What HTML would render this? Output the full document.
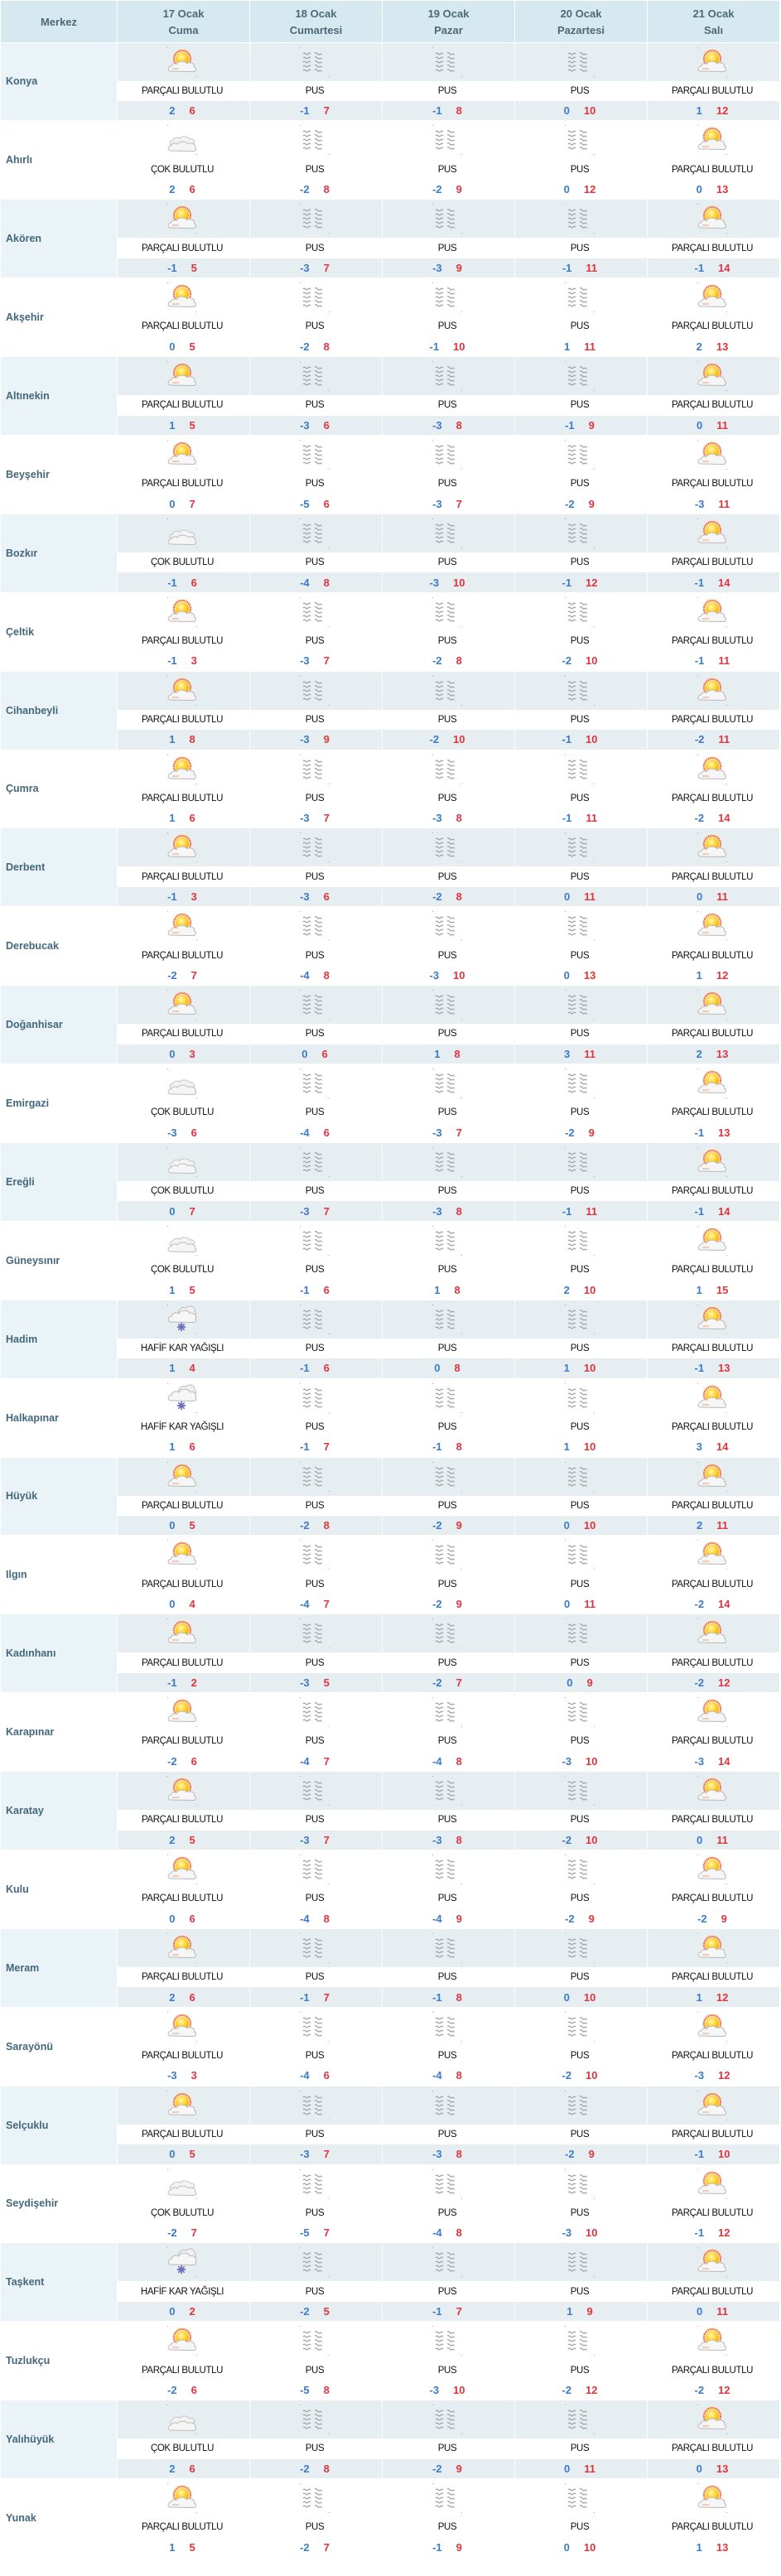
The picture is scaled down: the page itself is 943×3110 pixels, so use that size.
<!DOCTYPE html>
<html><head><meta charset="utf-8"><style>
*{margin:0;padding:0;box-sizing:border-box}
html,body{width:943px;height:3110px;background:#fff;overflow:hidden}
body{font-family:"Liberation Sans",sans-serif}
.g{display:grid;grid-template-columns:140px repeat(5,159px);grid-template-rows:49.5px repeat(32,46px 22.5px 23.4px);gap:1px;padding:1px;width:941px}
.g>div{display:flex;align-items:center;justify-content:center;overflow:hidden}
.h{background:#d6e9f0;color:#4e6878;font-weight:bold;font-size:13px;line-height:20px;text-align:center;padding-top:2px}
.n,.N{grid-row:span 3;justify-content:flex-start!important;padding-left:6px;font-weight:bold;font-size:12.5px;color:#44687b}
.N{background:#eaf3f7}
.I,.T{background:#e6eef2}
.i,.I,.d,.t,.T{padding-right:3px}
.d{font-size:11.5px;letter-spacing:-0.4px;color:#111;white-space:nowrap}
.t,.T{font-weight:bold;font-size:13px}
.t b,.T b{color:#3a7bcc;margin-right:17px}
.t i,.T i{color:#e2343f;font-style:normal}
.g svg{width:36px;height:36px;display:block}
</style></head><body>
<svg width="0" height="0" style="position:absolute">
<defs>
<radialGradient id="sg" cx="0.42" cy="0.35" r="0.7"><stop offset="0" stop-color="#fff8b0"/><stop offset="0.5" stop-color="#ffd436"/><stop offset="1" stop-color="#f5a400"/></radialGradient>
<symbol id="a" viewBox="0 0 36 36">
<rect width="1" height="1" fill="#aaa"/><rect x="35" y="35" width="1" height="1" fill="#aaa"/>
<circle cx="18" cy="14" r="12" fill="#ffe2a8" opacity=".55"/>
<circle cx="18" cy="14" r="10" fill="none" stroke="#f0482c" stroke-width="2" stroke-dasharray="1.3 1"/>
<circle cx="18" cy="14" r="8" fill="url(#sg)"/>
<path d="M4,29 C0,29 0,23 4.5,23 C5,20 9,19 11,20.5 C13,16.5 21,16 23.5,19.5 C28,17.5 34,20 32.5,24 C35.5,25 35,29.5 31,29.5 Z" fill="#f6f6f6" stroke="#b9b9b9" stroke-width="1"/>
<path d="M6,26 L14,26" stroke="#e9a070" stroke-width="1"/>
</symbol>
<symbol id="c" viewBox="0 0 36 36">
<rect width="1" height="1" fill="#aaa"/><rect x="35" y="35" width="1" height="1" fill="#aaa"/>
<path d="M6,24 C2,24 2,19 6,19 C7,15 13,14 15,16.5 C17,13 25,13 27,17 C31,16 34,19 32,22 Z" fill="#f3f3f3" stroke="#c4c4c4" stroke-width="1"/>
<path d="M4,31 C0,31 0,25 4.5,25 C5.5,22 10,21 12,23 C14,19.5 22,19 24.5,22.5 C29,21 35,23 33.5,27 C36,28 35,31.5 31,31.5 Z" fill="#f5f5f5" stroke="#bdbdbd" stroke-width="1"/>
</symbol>
<symbol id="h" viewBox="0 0 36 36">
<rect width="1" height="1" fill="#aaa"/><rect x="35" y="35" width="1" height="1" fill="#aaa"/>
<path d="M14,12 C12,6 18,2 23,4 C26,0 34,2 33,8 C36,10 34,14 31,14 Z" fill="#f0f0f0" stroke="#bdbdbd" stroke-width="1"/>
<path d="M4,21 C0,21 0,14 5,14.5 C5.5,10 11,8.5 14,11 C16,6 25,6 27,10.5 C32,9.5 36,13 34,17 C36,19 34,21.5 31,21.5 Z" fill="#f6f6f6" stroke="#b8b8b8" stroke-width="1"/>
<g stroke="#6a6ec2" stroke-width="1.7" stroke-linecap="round"><path d="M17,22.5 V31.5 M12.5,27 H21.5 M13.8,23.8 L20.2,30.2 M20.2,23.8 L13.8,30.2"/></g>
</symbol>
<symbol id="p" viewBox="0 0 36 36">
<rect width="1" height="1" fill="#aaa"/><rect x="35" y="35" width="1" height="1" fill="#aaa"/>
<g fill="none" stroke="#a6a6a6" stroke-width="1.3">
<path d="M4,8 q1.5,-1.6 3,0 t3,0 t3,0 M4,13 q1.5,-1.6 3,0 t3,0 t3,0 M4,18 q1.5,-1.6 3,0 t3,0 t3,0 M4,23 q1.5,-1.6 3,0 t3,0 t3,0 M4,28 q1.5,-1.6 3,0 t3,0 t3,0"/>
<path d="M18,7 q1.5,-1 3,0.8 t3,0.8 t2.5,0.8 M18,12 q1.5,-1 3,0.8 t3,0.8 t2.5,0.8 M18,17 q1.5,-1 3,0.8 t3,0.8 t2.5,0.8 M18,22 q1.5,-1 3,0.8 t3,0.8 t2.5,0.8 M18,27 q1.5,-1 3,0.8 t3,0.8 t2.5,0.8"/>
</g>
</symbol>
</defs></svg>
<div class="g">
<div class="h">Merkez</div>
<div class="h"><span>17 Ocak<br>Cuma</span></div>
<div class="h"><span>18 Ocak<br>Cumartesi</span></div>
<div class="h"><span>19 Ocak<br>Pazar</span></div>
<div class="h"><span>20 Ocak<br>Pazartesi</span></div>
<div class="h"><span>21 Ocak<br>Salı</span></div>

<div class="N">Konya</div>
<div class="I"><svg><use href="#a"/></svg></div><div class="I"><svg><use href="#p"/></svg></div><div class="I"><svg><use href="#p"/></svg></div><div class="I"><svg><use href="#p"/></svg></div><div class="I"><svg><use href="#a"/></svg></div>
<div class="d">PARÇALI BULUTLU</div><div class="d">PUS</div><div class="d">PUS</div><div class="d">PUS</div><div class="d">PARÇALI BULUTLU</div>
<div class="T"><b>2</b><i>6</i></div><div class="T"><b>-1</b><i>7</i></div><div class="T"><b>-1</b><i>8</i></div><div class="T"><b>0</b><i>10</i></div><div class="T"><b>1</b><i>12</i></div>

<div class="n">Ahırlı</div>
<div class="i"><svg><use href="#c"/></svg></div><div class="i"><svg><use href="#p"/></svg></div><div class="i"><svg><use href="#p"/></svg></div><div class="i"><svg><use href="#p"/></svg></div><div class="i"><svg><use href="#a"/></svg></div>
<div class="d">ÇOK BULUTLU</div><div class="d">PUS</div><div class="d">PUS</div><div class="d">PUS</div><div class="d">PARÇALI BULUTLU</div>
<div class="t"><b>2</b><i>6</i></div><div class="t"><b>-2</b><i>8</i></div><div class="t"><b>-2</b><i>9</i></div><div class="t"><b>0</b><i>12</i></div><div class="t"><b>0</b><i>13</i></div>

<div class="N">Akören</div>
<div class="I"><svg><use href="#a"/></svg></div><div class="I"><svg><use href="#p"/></svg></div><div class="I"><svg><use href="#p"/></svg></div><div class="I"><svg><use href="#p"/></svg></div><div class="I"><svg><use href="#a"/></svg></div>
<div class="d">PARÇALI BULUTLU</div><div class="d">PUS</div><div class="d">PUS</div><div class="d">PUS</div><div class="d">PARÇALI BULUTLU</div>
<div class="T"><b>-1</b><i>5</i></div><div class="T"><b>-3</b><i>7</i></div><div class="T"><b>-3</b><i>9</i></div><div class="T"><b>-1</b><i>11</i></div><div class="T"><b>-1</b><i>14</i></div>

<div class="n">Akşehir</div>
<div class="i"><svg><use href="#a"/></svg></div><div class="i"><svg><use href="#p"/></svg></div><div class="i"><svg><use href="#p"/></svg></div><div class="i"><svg><use href="#p"/></svg></div><div class="i"><svg><use href="#a"/></svg></div>
<div class="d">PARÇALI BULUTLU</div><div class="d">PUS</div><div class="d">PUS</div><div class="d">PUS</div><div class="d">PARÇALI BULUTLU</div>
<div class="t"><b>0</b><i>5</i></div><div class="t"><b>-2</b><i>8</i></div><div class="t"><b>-1</b><i>10</i></div><div class="t"><b>1</b><i>11</i></div><div class="t"><b>2</b><i>13</i></div>

<div class="N">Altınekin</div>
<div class="I"><svg><use href="#a"/></svg></div><div class="I"><svg><use href="#p"/></svg></div><div class="I"><svg><use href="#p"/></svg></div><div class="I"><svg><use href="#p"/></svg></div><div class="I"><svg><use href="#a"/></svg></div>
<div class="d">PARÇALI BULUTLU</div><div class="d">PUS</div><div class="d">PUS</div><div class="d">PUS</div><div class="d">PARÇALI BULUTLU</div>
<div class="T"><b>1</b><i>5</i></div><div class="T"><b>-3</b><i>6</i></div><div class="T"><b>-3</b><i>8</i></div><div class="T"><b>-1</b><i>9</i></div><div class="T"><b>0</b><i>11</i></div>

<div class="n">Beyşehir</div>
<div class="i"><svg><use href="#a"/></svg></div><div class="i"><svg><use href="#p"/></svg></div><div class="i"><svg><use href="#p"/></svg></div><div class="i"><svg><use href="#p"/></svg></div><div class="i"><svg><use href="#a"/></svg></div>
<div class="d">PARÇALI BULUTLU</div><div class="d">PUS</div><div class="d">PUS</div><div class="d">PUS</div><div class="d">PARÇALI BULUTLU</div>
<div class="t"><b>0</b><i>7</i></div><div class="t"><b>-5</b><i>6</i></div><div class="t"><b>-3</b><i>7</i></div><div class="t"><b>-2</b><i>9</i></div><div class="t"><b>-3</b><i>11</i></div>

<div class="N">Bozkır</div>
<div class="I"><svg><use href="#c"/></svg></div><div class="I"><svg><use href="#p"/></svg></div><div class="I"><svg><use href="#p"/></svg></div><div class="I"><svg><use href="#p"/></svg></div><div class="I"><svg><use href="#a"/></svg></div>
<div class="d">ÇOK BULUTLU</div><div class="d">PUS</div><div class="d">PUS</div><div class="d">PUS</div><div class="d">PARÇALI BULUTLU</div>
<div class="T"><b>-1</b><i>6</i></div><div class="T"><b>-4</b><i>8</i></div><div class="T"><b>-3</b><i>10</i></div><div class="T"><b>-1</b><i>12</i></div><div class="T"><b>-1</b><i>14</i></div>

<div class="n">Çeltik</div>
<div class="i"><svg><use href="#a"/></svg></div><div class="i"><svg><use href="#p"/></svg></div><div class="i"><svg><use href="#p"/></svg></div><div class="i"><svg><use href="#p"/></svg></div><div class="i"><svg><use href="#a"/></svg></div>
<div class="d">PARÇALI BULUTLU</div><div class="d">PUS</div><div class="d">PUS</div><div class="d">PUS</div><div class="d">PARÇALI BULUTLU</div>
<div class="t"><b>-1</b><i>3</i></div><div class="t"><b>-3</b><i>7</i></div><div class="t"><b>-2</b><i>8</i></div><div class="t"><b>-2</b><i>10</i></div><div class="t"><b>-1</b><i>11</i></div>

<div class="N">Cihanbeyli</div>
<div class="I"><svg><use href="#a"/></svg></div><div class="I"><svg><use href="#p"/></svg></div><div class="I"><svg><use href="#p"/></svg></div><div class="I"><svg><use href="#p"/></svg></div><div class="I"><svg><use href="#a"/></svg></div>
<div class="d">PARÇALI BULUTLU</div><div class="d">PUS</div><div class="d">PUS</div><div class="d">PUS</div><div class="d">PARÇALI BULUTLU</div>
<div class="T"><b>1</b><i>8</i></div><div class="T"><b>-3</b><i>9</i></div><div class="T"><b>-2</b><i>10</i></div><div class="T"><b>-1</b><i>10</i></div><div class="T"><b>-2</b><i>11</i></div>

<div class="n">Çumra</div>
<div class="i"><svg><use href="#a"/></svg></div><div class="i"><svg><use href="#p"/></svg></div><div class="i"><svg><use href="#p"/></svg></div><div class="i"><svg><use href="#p"/></svg></div><div class="i"><svg><use href="#a"/></svg></div>
<div class="d">PARÇALI BULUTLU</div><div class="d">PUS</div><div class="d">PUS</div><div class="d">PUS</div><div class="d">PARÇALI BULUTLU</div>
<div class="t"><b>1</b><i>6</i></div><div class="t"><b>-3</b><i>7</i></div><div class="t"><b>-3</b><i>8</i></div><div class="t"><b>-1</b><i>11</i></div><div class="t"><b>-2</b><i>14</i></div>

<div class="N">Derbent</div>
<div class="I"><svg><use href="#a"/></svg></div><div class="I"><svg><use href="#p"/></svg></div><div class="I"><svg><use href="#p"/></svg></div><div class="I"><svg><use href="#p"/></svg></div><div class="I"><svg><use href="#a"/></svg></div>
<div class="d">PARÇALI BULUTLU</div><div class="d">PUS</div><div class="d">PUS</div><div class="d">PUS</div><div class="d">PARÇALI BULUTLU</div>
<div class="T"><b>-1</b><i>3</i></div><div class="T"><b>-3</b><i>6</i></div><div class="T"><b>-2</b><i>8</i></div><div class="T"><b>0</b><i>11</i></div><div class="T"><b>0</b><i>11</i></div>

<div class="n">Derebucak</div>
<div class="i"><svg><use href="#a"/></svg></div><div class="i"><svg><use href="#p"/></svg></div><div class="i"><svg><use href="#p"/></svg></div><div class="i"><svg><use href="#p"/></svg></div><div class="i"><svg><use href="#a"/></svg></div>
<div class="d">PARÇALI BULUTLU</div><div class="d">PUS</div><div class="d">PUS</div><div class="d">PUS</div><div class="d">PARÇALI BULUTLU</div>
<div class="t"><b>-2</b><i>7</i></div><div class="t"><b>-4</b><i>8</i></div><div class="t"><b>-3</b><i>10</i></div><div class="t"><b>0</b><i>13</i></div><div class="t"><b>1</b><i>12</i></div>

<div class="N">Doğanhisar</div>
<div class="I"><svg><use href="#a"/></svg></div><div class="I"><svg><use href="#p"/></svg></div><div class="I"><svg><use href="#p"/></svg></div><div class="I"><svg><use href="#p"/></svg></div><div class="I"><svg><use href="#a"/></svg></div>
<div class="d">PARÇALI BULUTLU</div><div class="d">PUS</div><div class="d">PUS</div><div class="d">PUS</div><div class="d">PARÇALI BULUTLU</div>
<div class="T"><b>0</b><i>3</i></div><div class="T"><b>0</b><i>6</i></div><div class="T"><b>1</b><i>8</i></div><div class="T"><b>3</b><i>11</i></div><div class="T"><b>2</b><i>13</i></div>

<div class="n">Emirgazi</div>
<div class="i"><svg><use href="#c"/></svg></div><div class="i"><svg><use href="#p"/></svg></div><div class="i"><svg><use href="#p"/></svg></div><div class="i"><svg><use href="#p"/></svg></div><div class="i"><svg><use href="#a"/></svg></div>
<div class="d">ÇOK BULUTLU</div><div class="d">PUS</div><div class="d">PUS</div><div class="d">PUS</div><div class="d">PARÇALI BULUTLU</div>
<div class="t"><b>-3</b><i>6</i></div><div class="t"><b>-4</b><i>6</i></div><div class="t"><b>-3</b><i>7</i></div><div class="t"><b>-2</b><i>9</i></div><div class="t"><b>-1</b><i>13</i></div>

<div class="N">Ereğli</div>
<div class="I"><svg><use href="#c"/></svg></div><div class="I"><svg><use href="#p"/></svg></div><div class="I"><svg><use href="#p"/></svg></div><div class="I"><svg><use href="#p"/></svg></div><div class="I"><svg><use href="#a"/></svg></div>
<div class="d">ÇOK BULUTLU</div><div class="d">PUS</div><div class="d">PUS</div><div class="d">PUS</div><div class="d">PARÇALI BULUTLU</div>
<div class="T"><b>0</b><i>7</i></div><div class="T"><b>-3</b><i>7</i></div><div class="T"><b>-3</b><i>8</i></div><div class="T"><b>-1</b><i>11</i></div><div class="T"><b>-1</b><i>14</i></div>

<div class="n">Güneysınır</div>
<div class="i"><svg><use href="#c"/></svg></div><div class="i"><svg><use href="#p"/></svg></div><div class="i"><svg><use href="#p"/></svg></div><div class="i"><svg><use href="#p"/></svg></div><div class="i"><svg><use href="#a"/></svg></div>
<div class="d">ÇOK BULUTLU</div><div class="d">PUS</div><div class="d">PUS</div><div class="d">PUS</div><div class="d">PARÇALI BULUTLU</div>
<div class="t"><b>1</b><i>5</i></div><div class="t"><b>-1</b><i>6</i></div><div class="t"><b>1</b><i>8</i></div><div class="t"><b>2</b><i>10</i></div><div class="t"><b>1</b><i>15</i></div>

<div class="N">Hadim</div>
<div class="I"><svg><use href="#h"/></svg></div><div class="I"><svg><use href="#p"/></svg></div><div class="I"><svg><use href="#p"/></svg></div><div class="I"><svg><use href="#p"/></svg></div><div class="I"><svg><use href="#a"/></svg></div>
<div class="d">HAFİF KAR YAĞIŞLI</div><div class="d">PUS</div><div class="d">PUS</div><div class="d">PUS</div><div class="d">PARÇALI BULUTLU</div>
<div class="T"><b>1</b><i>4</i></div><div class="T"><b>-1</b><i>6</i></div><div class="T"><b>0</b><i>8</i></div><div class="T"><b>1</b><i>10</i></div><div class="T"><b>-1</b><i>13</i></div>

<div class="n">Halkapınar</div>
<div class="i"><svg><use href="#h"/></svg></div><div class="i"><svg><use href="#p"/></svg></div><div class="i"><svg><use href="#p"/></svg></div><div class="i"><svg><use href="#p"/></svg></div><div class="i"><svg><use href="#a"/></svg></div>
<div class="d">HAFİF KAR YAĞIŞLI</div><div class="d">PUS</div><div class="d">PUS</div><div class="d">PUS</div><div class="d">PARÇALI BULUTLU</div>
<div class="t"><b>1</b><i>6</i></div><div class="t"><b>-1</b><i>7</i></div><div class="t"><b>-1</b><i>8</i></div><div class="t"><b>1</b><i>10</i></div><div class="t"><b>3</b><i>14</i></div>

<div class="N">Hüyük</div>
<div class="I"><svg><use href="#a"/></svg></div><div class="I"><svg><use href="#p"/></svg></div><div class="I"><svg><use href="#p"/></svg></div><div class="I"><svg><use href="#p"/></svg></div><div class="I"><svg><use href="#a"/></svg></div>
<div class="d">PARÇALI BULUTLU</div><div class="d">PUS</div><div class="d">PUS</div><div class="d">PUS</div><div class="d">PARÇALI BULUTLU</div>
<div class="T"><b>0</b><i>5</i></div><div class="T"><b>-2</b><i>8</i></div><div class="T"><b>-2</b><i>9</i></div><div class="T"><b>0</b><i>10</i></div><div class="T"><b>2</b><i>11</i></div>

<div class="n">Ilgın</div>
<div class="i"><svg><use href="#a"/></svg></div><div class="i"><svg><use href="#p"/></svg></div><div class="i"><svg><use href="#p"/></svg></div><div class="i"><svg><use href="#p"/></svg></div><div class="i"><svg><use href="#a"/></svg></div>
<div class="d">PARÇALI BULUTLU</div><div class="d">PUS</div><div class="d">PUS</div><div class="d">PUS</div><div class="d">PARÇALI BULUTLU</div>
<div class="t"><b>0</b><i>4</i></div><div class="t"><b>-4</b><i>7</i></div><div class="t"><b>-2</b><i>9</i></div><div class="t"><b>0</b><i>11</i></div><div class="t"><b>-2</b><i>14</i></div>

<div class="N">Kadınhanı</div>
<div class="I"><svg><use href="#a"/></svg></div><div class="I"><svg><use href="#p"/></svg></div><div class="I"><svg><use href="#p"/></svg></div><div class="I"><svg><use href="#p"/></svg></div><div class="I"><svg><use href="#a"/></svg></div>
<div class="d">PARÇALI BULUTLU</div><div class="d">PUS</div><div class="d">PUS</div><div class="d">PUS</div><div class="d">PARÇALI BULUTLU</div>
<div class="T"><b>-1</b><i>2</i></div><div class="T"><b>-3</b><i>5</i></div><div class="T"><b>-2</b><i>7</i></div><div class="T"><b>0</b><i>9</i></div><div class="T"><b>-2</b><i>12</i></div>

<div class="n">Karapınar</div>
<div class="i"><svg><use href="#a"/></svg></div><div class="i"><svg><use href="#p"/></svg></div><div class="i"><svg><use href="#p"/></svg></div><div class="i"><svg><use href="#p"/></svg></div><div class="i"><svg><use href="#a"/></svg></div>
<div class="d">PARÇALI BULUTLU</div><div class="d">PUS</div><div class="d">PUS</div><div class="d">PUS</div><div class="d">PARÇALI BULUTLU</div>
<div class="t"><b>-2</b><i>6</i></div><div class="t"><b>-4</b><i>7</i></div><div class="t"><b>-4</b><i>8</i></div><div class="t"><b>-3</b><i>10</i></div><div class="t"><b>-3</b><i>14</i></div>

<div class="N">Karatay</div>
<div class="I"><svg><use href="#a"/></svg></div><div class="I"><svg><use href="#p"/></svg></div><div class="I"><svg><use href="#p"/></svg></div><div class="I"><svg><use href="#p"/></svg></div><div class="I"><svg><use href="#a"/></svg></div>
<div class="d">PARÇALI BULUTLU</div><div class="d">PUS</div><div class="d">PUS</div><div class="d">PUS</div><div class="d">PARÇALI BULUTLU</div>
<div class="T"><b>2</b><i>5</i></div><div class="T"><b>-3</b><i>7</i></div><div class="T"><b>-3</b><i>8</i></div><div class="T"><b>-2</b><i>10</i></div><div class="T"><b>0</b><i>11</i></div>

<div class="n">Kulu</div>
<div class="i"><svg><use href="#a"/></svg></div><div class="i"><svg><use href="#p"/></svg></div><div class="i"><svg><use href="#p"/></svg></div><div class="i"><svg><use href="#p"/></svg></div><div class="i"><svg><use href="#a"/></svg></div>
<div class="d">PARÇALI BULUTLU</div><div class="d">PUS</div><div class="d">PUS</div><div class="d">PUS</div><div class="d">PARÇALI BULUTLU</div>
<div class="t"><b>0</b><i>6</i></div><div class="t"><b>-4</b><i>8</i></div><div class="t"><b>-4</b><i>9</i></div><div class="t"><b>-2</b><i>9</i></div><div class="t"><b>-2</b><i>9</i></div>

<div class="N">Meram</div>
<div class="I"><svg><use href="#a"/></svg></div><div class="I"><svg><use href="#p"/></svg></div><div class="I"><svg><use href="#p"/></svg></div><div class="I"><svg><use href="#p"/></svg></div><div class="I"><svg><use href="#a"/></svg></div>
<div class="d">PARÇALI BULUTLU</div><div class="d">PUS</div><div class="d">PUS</div><div class="d">PUS</div><div class="d">PARÇALI BULUTLU</div>
<div class="T"><b>2</b><i>6</i></div><div class="T"><b>-1</b><i>7</i></div><div class="T"><b>-1</b><i>8</i></div><div class="T"><b>0</b><i>10</i></div><div class="T"><b>1</b><i>12</i></div>

<div class="n">Sarayönü</div>
<div class="i"><svg><use href="#a"/></svg></div><div class="i"><svg><use href="#p"/></svg></div><div class="i"><svg><use href="#p"/></svg></div><div class="i"><svg><use href="#p"/></svg></div><div class="i"><svg><use href="#a"/></svg></div>
<div class="d">PARÇALI BULUTLU</div><div class="d">PUS</div><div class="d">PUS</div><div class="d">PUS</div><div class="d">PARÇALI BULUTLU</div>
<div class="t"><b>-3</b><i>3</i></div><div class="t"><b>-4</b><i>6</i></div><div class="t"><b>-4</b><i>8</i></div><div class="t"><b>-2</b><i>10</i></div><div class="t"><b>-3</b><i>12</i></div>

<div class="N">Selçuklu</div>
<div class="I"><svg><use href="#a"/></svg></div><div class="I"><svg><use href="#p"/></svg></div><div class="I"><svg><use href="#p"/></svg></div><div class="I"><svg><use href="#p"/></svg></div><div class="I"><svg><use href="#a"/></svg></div>
<div class="d">PARÇALI BULUTLU</div><div class="d">PUS</div><div class="d">PUS</div><div class="d">PUS</div><div class="d">PARÇALI BULUTLU</div>
<div class="T"><b>0</b><i>5</i></div><div class="T"><b>-3</b><i>7</i></div><div class="T"><b>-3</b><i>8</i></div><div class="T"><b>-2</b><i>9</i></div><div class="T"><b>-1</b><i>10</i></div>

<div class="n">Seydişehir</div>
<div class="i"><svg><use href="#c"/></svg></div><div class="i"><svg><use href="#p"/></svg></div><div class="i"><svg><use href="#p"/></svg></div><div class="i"><svg><use href="#p"/></svg></div><div class="i"><svg><use href="#a"/></svg></div>
<div class="d">ÇOK BULUTLU</div><div class="d">PUS</div><div class="d">PUS</div><div class="d">PUS</div><div class="d">PARÇALI BULUTLU</div>
<div class="t"><b>-2</b><i>7</i></div><div class="t"><b>-5</b><i>7</i></div><div class="t"><b>-4</b><i>8</i></div><div class="t"><b>-3</b><i>10</i></div><div class="t"><b>-1</b><i>12</i></div>

<div class="N">Taşkent</div>
<div class="I"><svg><use href="#h"/></svg></div><div class="I"><svg><use href="#p"/></svg></div><div class="I"><svg><use href="#p"/></svg></div><div class="I"><svg><use href="#p"/></svg></div><div class="I"><svg><use href="#a"/></svg></div>
<div class="d">HAFİF KAR YAĞIŞLI</div><div class="d">PUS</div><div class="d">PUS</div><div class="d">PUS</div><div class="d">PARÇALI BULUTLU</div>
<div class="T"><b>0</b><i>2</i></div><div class="T"><b>-2</b><i>5</i></div><div class="T"><b>-1</b><i>7</i></div><div class="T"><b>1</b><i>9</i></div><div class="T"><b>0</b><i>11</i></div>

<div class="n">Tuzlukçu</div>
<div class="i"><svg><use href="#a"/></svg></div><div class="i"><svg><use href="#p"/></svg></div><div class="i"><svg><use href="#p"/></svg></div><div class="i"><svg><use href="#p"/></svg></div><div class="i"><svg><use href="#a"/></svg></div>
<div class="d">PARÇALI BULUTLU</div><div class="d">PUS</div><div class="d">PUS</div><div class="d">PUS</div><div class="d">PARÇALI BULUTLU</div>
<div class="t"><b>-2</b><i>6</i></div><div class="t"><b>-5</b><i>8</i></div><div class="t"><b>-3</b><i>10</i></div><div class="t"><b>-2</b><i>12</i></div><div class="t"><b>-2</b><i>12</i></div>

<div class="N">Yalıhüyük</div>
<div class="I"><svg><use href="#c"/></svg></div><div class="I"><svg><use href="#p"/></svg></div><div class="I"><svg><use href="#p"/></svg></div><div class="I"><svg><use href="#p"/></svg></div><div class="I"><svg><use href="#a"/></svg></div>
<div class="d">ÇOK BULUTLU</div><div class="d">PUS</div><div class="d">PUS</div><div class="d">PUS</div><div class="d">PARÇALI BULUTLU</div>
<div class="T"><b>2</b><i>6</i></div><div class="T"><b>-2</b><i>8</i></div><div class="T"><b>-2</b><i>9</i></div><div class="T"><b>0</b><i>11</i></div><div class="T"><b>0</b><i>13</i></div>

<div class="n">Yunak</div>
<div class="i"><svg><use href="#a"/></svg></div><div class="i"><svg><use href="#p"/></svg></div><div class="i"><svg><use href="#p"/></svg></div><div class="i"><svg><use href="#p"/></svg></div><div class="i"><svg><use href="#a"/></svg></div>
<div class="d">PARÇALI BULUTLU</div><div class="d">PUS</div><div class="d">PUS</div><div class="d">PUS</div><div class="d">PARÇALI BULUTLU</div>
<div class="t"><b>1</b><i>5</i></div><div class="t"><b>-2</b><i>7</i></div><div class="t"><b>-1</b><i>9</i></div><div class="t"><b>0</b><i>10</i></div><div class="t"><b>1</b><i>13</i></div>
</div>
</body></html>
